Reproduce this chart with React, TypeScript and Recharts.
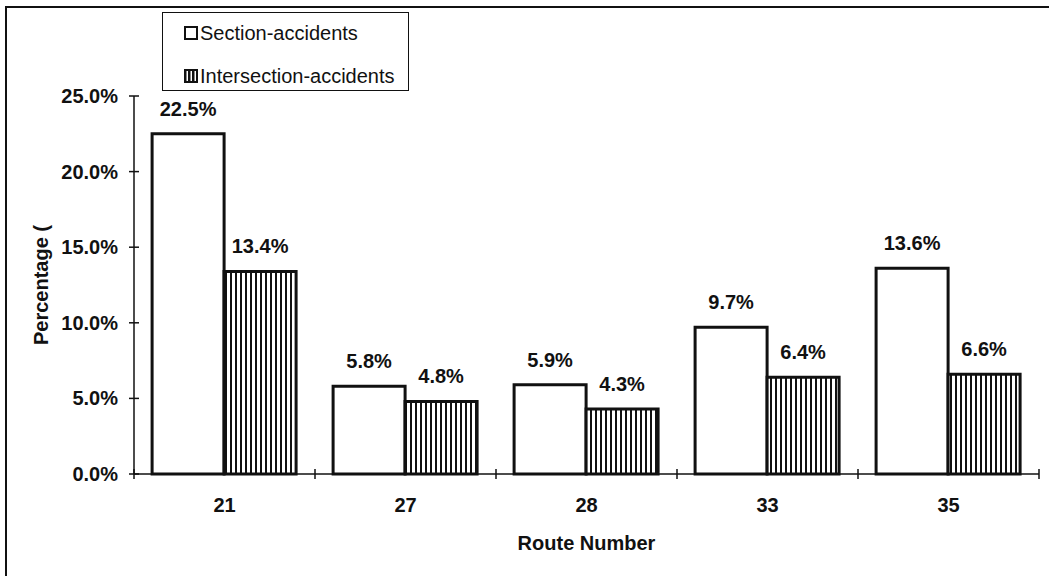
import { BarChart, Bar, XAxis, YAxis, LabelList, Legend } from 'recharts';

const routes = ['21', '27', '28', '33', '35'];
const sectionPct = [22.5, 5.8, 5.9, 9.7, 13.6];
const intersectionPct = [13.4, 4.8, 4.3, 6.4, 6.6];
const yTicks = [0, 5, 10, 15, 20, 25];
const seriesNames = ['Section-accidents', 'Intersection-accidents'];

const data = routes.map((route, i) => ({
    route,
    section: sectionPct[i],
    intersection: intersectionPct[i],
}));

const FONT = '"Liberation Sans", Arial, sans-serif';
const INK = '#111';
const FS = 20;
const pct = (v: number) => `${Number(v).toFixed(1)}%`;

function YTick({ x, y, payload }: any) {
    return (
        <g>
            <line x1={x - 5} x2={x + 5} y1={y} y2={y} stroke={INK} strokeWidth={1.5} />
            <text x={x - 16} y={y} dy="0.35em" textAnchor="end" fontSize={FS} fontWeight="bold" fontFamily={FONT} fill={INK}>
                {pct(payload.value)}
            </text>
        </g>
    );
}

function XTick({ x, y, payload, index }: any) {
    const half = payload.offset ?? 0;
    return (
        <g>
            <line x1={x - half} x2={x - half} y1={y - 5} y2={y + 5} stroke={INK} strokeWidth={1.5} />
            {index === routes.length - 1 && (
                <line x1={x + half} x2={x + half} y1={y - 5} y2={y + 5} stroke={INK} strokeWidth={1.5} />
            )}
            <text x={x} y={y + 38} textAnchor="middle" fontSize={FS} fontWeight="bold" fontFamily={FONT} fill={INK}>
                {payload.value}
            </text>
        </g>
    );
}

function LegendBox() {
    return (
        <div style={{ position: 'relative', width: 247, height: 79, fontFamily: FONT, fontSize: 20, color: INK }}>
            {seriesNames.map((name, i) => (
                <div key={name} style={{ position: 'absolute', left: 21, top: i === 0 ? 9 : 52, display: 'flex', alignItems: 'center', whiteSpace: 'nowrap' }}>
                    <svg width={14} height={14} style={{ marginRight: 2 }}>
                        <defs>
                            <pattern id="legStripes" width={4} height={4} patternUnits="userSpaceOnUse">
                                <rect width={4} height={4} fill="#fff" />
                                <rect width={2.5} height={4} fill={INK} />
                            </pattern>
                        </defs>
                        <rect x={1} y={1} width={12} height={12} fill={i === 0 ? '#fff' : 'url(#legStripes)'} stroke={INK} strokeWidth={2} />
                    </svg>
                    <span style={{ lineHeight: '22px' }}>{name}</span>
                </div>
            ))}
        </div>
    );
}

export default function App() {
    return (
        <div style={{ position: 'absolute', left: 0, top: 0, width: 1049, height: 576, background: '#fff', overflow: 'hidden' }}>
            <div style={{ position: 'absolute', left: 5, top: 6, width: 1100, height: 600, borderLeft: `2px solid ${INK}`, borderTop: `2px solid ${INK}` }} />
            <BarChart
                width={1049}
                height={576}
                data={data}
                margin={{ top: 96, right: 10, left: 0, bottom: 0 }}
                barCategoryGap="10%"
                barGap={0}
                style={{ position: 'absolute', left: 0, top: 0 }}
            >
                <defs>
                    <pattern id="vStripes" width={5} height={10} patternUnits="userSpaceOnUse">
                        <rect width={5} height={10} fill="#fff" />
                        <rect width={2} height={10} fill={INK} />
                    </pattern>
                </defs>
                <XAxis
                    dataKey="route"
                    height={102}
                    tickSize={0}
                    tickMargin={0}
                    tickLine={false}
                    axisLine={{ stroke: INK, strokeWidth: 1.5 }}
                    tick={<XTick />}
                    interval={0}
                    label={({ viewBox }: any) => (
                        <text x={viewBox.x + viewBox.width / 2} y={viewBox.y + 76} textAnchor="middle" fontSize={FS} fontWeight="bold" fontFamily={FONT} fill={INK}>
                            Route Number
                        </text>
                    )}
                />
                <YAxis
                    width={134}
                    domain={[0, 25]}
                    ticks={yTicks}
                    tickSize={0}
                    tickMargin={0}
                    tickLine={false}
                    axisLine={{ stroke: INK, strokeWidth: 1.5 }}
                    tick={<YTick />}
                    interval={0}
                    label={({ viewBox }: any) => {
                        const cx = viewBox.x + 41;
                        const cy = viewBox.y + viewBox.height / 2;
                        return (
                            <text x={cx} y={cy} transform={`rotate(-90 ${cx} ${cy})`} dy="0.35em" textAnchor="middle" fontSize={FS} fontWeight="bold" fontFamily={FONT} fill={INK}>
                                Percentage (
                            </text>
                        );
                    }}
                />
                <Legend
                    layout="vertical"
                    align="center"
                    verticalAlign="middle"
                    content={<LegendBox />}
                    wrapperStyle={{ left: 162, top: 12, width: 247, height: 79, border: `1.5px solid ${INK}`, background: '#fff', boxSizing: 'border-box' }}
                />
                <Bar dataKey="section" name={seriesNames[0]} fill="#fff" stroke={INK} strokeWidth={3} isAnimationActive={false}>
                    <LabelList dataKey="section" position="top" offset={18} formatter={(v: any) => pct(v)} fontSize={FS} fontWeight="bold" fontFamily={FONT} fill={INK} />
                </Bar>
                <Bar dataKey="intersection" name={seriesNames[1]} fill="url(#vStripes)" stroke={INK} strokeWidth={3} isAnimationActive={false}>
                    <LabelList dataKey="intersection" position="top" offset={18} formatter={(v: any) => pct(v)} fontSize={FS} fontWeight="bold" fontFamily={FONT} fill={INK} />
                </Bar>
            </BarChart>
        </div>
    );
}
